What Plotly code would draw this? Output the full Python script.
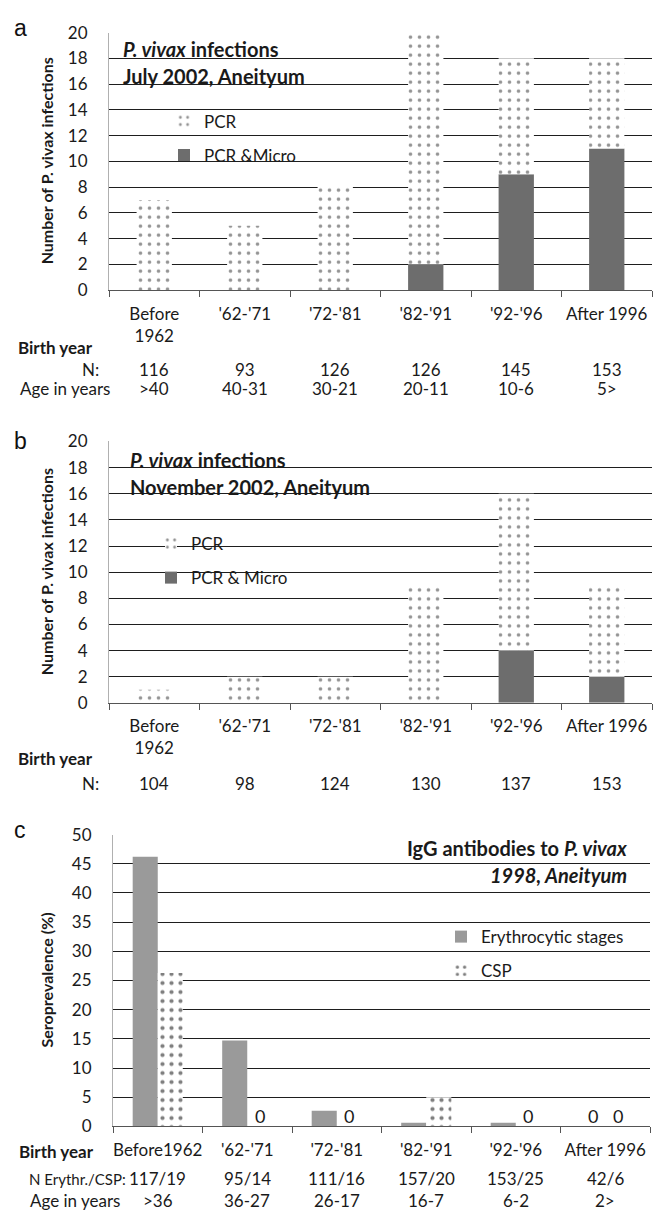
import plotly.graph_objects as go

# ---------------- data ----------------
cats = ["Before 1962", "'62-'71", "'72-'81", "'82-'91", "'92-'96", "After 1996"]
tick_ab = ["Before<br>1962", "'62-'71", "'72-'81", "'82-'91", "'92-'96", "After 1996"]
tick_c = ["Before1962", "'62-'71", "'72-'81", "'82-'91", "'92-'96", "After 1996"]

# panel a: July 2002
a_micro = [0, 0, 0, 2, 9, 11]          # PCR & Micro
a_pcr_only = [7, 5, 8, 18, 9, 7]       # PCR only (stacked on top)
a_n = ["116", "93", "126", "126", "145", "153"]
a_age = [">40", "40-31", "30-21", "20-11", "10-6", "5>"]

# panel b: November 2002
b_micro = [0, 0, 0, 0, 4, 2]
b_pcr_only = [1, 2, 2, 9, 12, 7]
b_n = ["104", "98", "124", "130", "137", "153"]

# panel c: IgG 1998
c_eryth = [46.2, 14.7, 2.7, 0.64, 0.65, 0]
c_csp = [26.3, 0, 0, 5.0, 0, 0]
c_n = ["117/19", "95/14", "111/16", "157/20", "153/25", "42/6"]
c_age = [">36", "36-27", "26-17", "16-7", "6-2", "2>"]

# ---------------- layout helpers ----------------
W, H = 655, 1218
FONT = "Lato"
TXT = "#1a1a1a"
FS = 17


def px(x):
    return x / W


def py(y):
    return 1 - y / H


DARK = "#6d6d6d"
ERY = "#9a9a9a"
BW = 0.39     # bar width (a, b)
GW = 0.28     # bar width (c, grouped)

fig = go.Figure()

dots_a = dict(shape=".", fgcolor="#2a2a2a", bgcolor="white", size=9, solidity=0.13, fillmode="overlay")
dots_c = dict(shape=".", fgcolor="#000000", bgcolor="white", size=9, solidity=0.17, fillmode="overlay")

# panel a
fig.add_trace(go.Bar(x=cats, y=a_micro, name="PCR &Micro", width=BW,
                     marker=dict(color=DARK, line=dict(width=0)), legendrank=2,
                     xaxis="x", yaxis="y", legend="legend", legendgroup="a1"))
fig.add_trace(go.Bar(x=cats, y=a_pcr_only, base=a_micro, name="PCR", width=BW,
                     marker=dict(color="white", line=dict(width=0), pattern=dots_a), legendrank=1,
                     xaxis="x", yaxis="y", legend="legend", legendgroup="a2"))
# panel b
fig.add_trace(go.Bar(x=cats, y=b_micro, name="PCR & Micro", width=BW,
                     marker=dict(color=DARK, line=dict(width=0)), legendrank=2,
                     xaxis="x2", yaxis="y2", legend="legend2", legendgroup="b1"))
fig.add_trace(go.Bar(x=cats, y=b_pcr_only, base=b_micro, name="PCR", width=BW,
                     marker=dict(color="white", line=dict(width=0), pattern=dots_a), legendrank=1,
                     xaxis="x2", yaxis="y2", legend="legend2", legendgroup="b2"))
# panel c
fig.add_trace(go.Bar(x=cats, y=c_eryth, name="Erythrocytic stages", width=GW, offset=-GW,
                     marker=dict(color=ERY, line=dict(width=0)), legendrank=1,
                     xaxis="x3", yaxis="y3", legend="legend3", legendgroup="c1"))
fig.add_trace(go.Bar(x=cats, y=c_csp, name="CSP", width=GW, offset=0,
                     marker=dict(color="white", line=dict(width=0), pattern=dots_c), legendrank=2,
                     xaxis="x3", yaxis="y3", legend="legend3", legendgroup="c2"))

axis_common_x = dict(type="category", tickson="boundaries", ticks="outside", ticklen=6,
                     tickcolor="#555", showline=True, linecolor="#555", linewidth=1,
                     showgrid=False, tickfont=dict(family=FONT, size=FS, color=TXT),
                     ticklabelstandoff=8, tickangle=0, fixedrange=True)
axis_common_y = dict(showgrid=True, gridcolor="#1e1e1e", gridwidth=1, showline=True,
                     linecolor="#b0b0b0", linewidth=1, ticks="", zeroline=False,
                     tickfont=dict(family=FONT, size=FS, color=TXT), ticklabelstandoff=17,
                     fixedrange=True)

layout = dict(
    width=W, height=H, margin=dict(l=0, r=0, t=0, b=0), paper_bgcolor="white",
    plot_bgcolor="white", barmode="overlay", showlegend=True,
    font=dict(family=FONT, color=TXT),
    xaxis=dict(axis_common_x, domain=[px(109), px(652)], anchor="y", ticktext=tick_ab,
               tickvals=cats),
    yaxis=dict(axis_common_y, domain=[py(284), py(22)], anchor="x", range=[0, 20], dtick=2),
    xaxis2=dict(axis_common_x, domain=[px(109), px(652)], anchor="y2", ticktext=tick_ab,
                tickvals=cats),
    yaxis2=dict(axis_common_y, domain=[py(704), py(438)], anchor="x2", range=[0, 20], dtick=2),
    xaxis3=dict(axis_common_x, domain=[px(113), px(650)], anchor="y3", ticktext=tick_c,
                tickvals=cats),
    yaxis3=dict(axis_common_y, domain=[py(1135), py(838)], anchor="x3", range=[0, 50], dtick=5),
)

leg_common = dict(bgcolor="rgba(0,0,0,0)", borderwidth=0, font=dict(family=FONT, size=FS, color=TXT),
                  xanchor="left", yanchor="top", tracegroupgap=9, traceorder="grouped",
                  itemclick=False, itemdoubleclick=False)
layout["legend"] = dict(leg_common, x=px(164), y=py(94))
layout["legend2"] = dict(leg_common, x=px(151), y=py(524))
layout["legend3"] = dict(leg_common, x=px(441), y=py(924))

fig.update_layout(**layout)

ann = []


def note(text, x, y, size=FS, xanchor="center", bold=False, xref="paper"):
    t = f"<b>{text}</b>" if bold else text
    ann.append(dict(text=t, x=x, y=y, xref=xref, yref="paper", showarrow=False,
                    xanchor=xanchor, yanchor="middle", font=dict(family=FONT, size=size, color=TXT)))


# panel letters
for letter, yy in (("a", 17), ("b", 438), ("c", 833)):
    ann.append(dict(text=letter, x=px(12), y=py(yy), xref="paper", yref="paper", showarrow=False,
                    xanchor="left", yanchor="middle",
                    font=dict(family="Liberation Sans", size=23, color="#111")))

# y-axis titles
for title, yc in (("Number of P. vivax infections", (22 + 284) / 2),
                  ("Number of P. vivax infections", (438 + 704) / 2),
                  ("Seroprevalence (%)", (838 + 1135) / 2)):
    ann.append(dict(text=f"<b>{title}</b>", x=px(46), y=py(yc), xref="paper", yref="paper",
                    showarrow=False, textangle=-90, xanchor="center", yanchor="middle",
                    font=dict(family=FONT, size=16, color=TXT)))

# in-plot titles
TS = 20
note("<i>P. vivax</i> infections", px(121), py(39), size=TS, xanchor="left", bold=True)
note("July 2002, Aneityum", px(121), py(66), size=TS, xanchor="left", bold=True)
note("<i>P. vivax</i> infections", px(128), py(457), size=TS, xanchor="left", bold=True)
note("November 2002, Aneityum", px(128), py(484), size=TS, xanchor="left", bold=True)
note("IgG antibodies to <i>P. vivax</i>", px(629), py(852), size=TS, xanchor="right", bold=True)
note("<i>1998, Aneityum</i>", px(629), py(879), size=TS, xanchor="right", bold=True)

# "0" labels on zero-height bars in panel c (at the bar centres)
for i, (e, s) in enumerate(zip(c_eryth, c_csp)):
    for v, off in ((e, -GW / 2), (s, GW / 2)):
        if v == 0:
            ann.append(dict(text="0", x=i + off, y=0, xref="x3", yref="y3", showarrow=False,
                            xanchor="center", yanchor="bottom", yshift=-3,
                            font=dict(family=FONT, size=18, color=TXT)))

# table rows, panel a
note("Birth year", px(16), py(342), xanchor="left", bold=True)
note("N:", px(101), py(365), xanchor="right")
note("Age in years", px(18), py(384), xanchor="left")
for c, n, ag in zip(cats, a_n, a_age):
    note(n, c, py(365), xref="x")
    note(ag, c, py(384), xref="x")

# table rows, panel b
note("Birth year", px(16), py(761), xanchor="left", bold=True)
note("N:", px(101), py(786), xanchor="right")
for c, n in zip(cats, b_n):
    note(n, c, py(786), xref="x2")

# table rows, panel c
note("Birth year", px(17), py(1161), xanchor="left", bold=True)
note("N Erythr./CSP:", px(27), py(1188), size=15, xanchor="left")
note("Age in years", px(28), py(1210), xanchor="left")
for c, n, ag in zip(cats, c_n, c_age):
    note(n, c, py(1188), xref="x3")
    note(ag, c, py(1210), xref="x3")

fig.update_layout(annotations=ann)
fig.write_html("out.html")
